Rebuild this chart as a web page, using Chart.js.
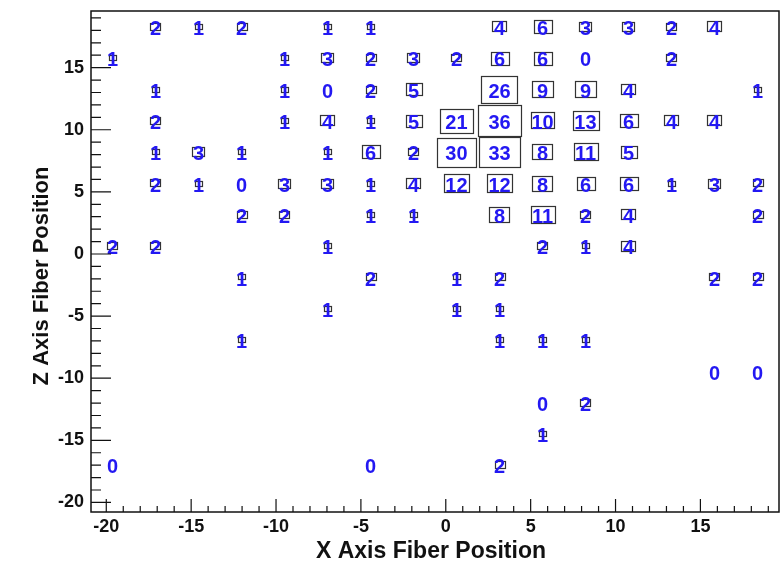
<!DOCTYPE html>
<html>
<head>
<meta charset="utf-8">
<script src="https://cdn.jsdelivr.net/npm/chart.js@4.4.1/dist/chart.umd.min.js"></script>
<style>
  html, body { margin: 0; padding: 0; background: #fff; }
</style>
</head>
<body>
<canvas id="fiberChart" width="783" height="566"></canvas>
<script>
// bin centres of the 16 x 16 histogram
const xCenters = [-19.63, -17.10, -14.57, -12.03, -9.50, -6.97, -4.43, -1.90, 0.63, 3.17, 5.70, 8.23, 10.77, 13.30, 15.83, 18.37];
const zCenters = [18.30, 15.78, 13.26, 10.74, 8.22, 5.70, 3.18, 0.66, -1.86, -4.38, -6.90, -9.42, -11.94, -14.46, -16.98, -19.50];
const xRange = [-20.9, 19.63];
const zRange = [-20.77, 19.56];
const xTicks = [-20, -15, -10, -5, 0, 5, 10, 15];
const zTicks = [-20, -15, -10, -5, 0, 5, 10, 15];

// counts per row (top row first), null = empty bin
const counts = [
  [null, 2, 1, 2, null, 1, 1, null, null, 4, 6, 3, 3, 2, 4, null],
  [1, null, null, null, 1, 3, 2, 3, 2, 6, 6, 0, null, 2, null, null],
  [null, 1, null, null, 1, 0, 2, 5, null, 26, 9, 9, 4, null, null, 1],
  [null, 2, null, null, 1, 4, 1, 5, 21, 36, 10, 13, 6, 4, 4, null],
  [null, 1, 3, 1, null, 1, 6, 2, 30, 33, 8, 11, 5, null, null, null],
  [null, 2, 1, 0, 3, 3, 1, 4, 12, 12, 8, 6, 6, 1, 3, 2],
  [null, null, null, 2, 2, null, 1, 1, null, 8, 11, 2, 4, null, null, 2],
  [2, 2, null, null, null, 1, null, null, null, null, 2, 1, 4, null, null, null],
  [null, null, null, 1, null, null, 2, null, 1, 2, null, null, null, null, 2, 2],
  [null, null, null, null, null, 1, null, null, 1, 1, null, null, null, null, null, null],
  [null, null, null, 1, null, null, null, null, null, 1, 1, 1, null, null, null, null],
  [null, null, null, null, null, null, null, null, null, null, null, null, null, null, 0, 0],
  [null, null, null, null, null, null, null, null, null, null, 0, 2, null, null, null, null],
  [null, null, null, null, null, null, null, null, null, null, 1, null, null, null, null, null],
  [0, null, null, null, null, null, 0, null, null, 2, null, null, null, null, null, null],
  [null, null, null, null, null, null, null, null, null, null, null, null, null, null, null, null]
];

const cells = [];
counts.forEach((row, r) => {
  row.forEach((v, c) => {
    if (v !== null) cells.push({ x: xCenters[c], y: zCenters[r], v: v });
  });
});
const maxCount = Math.max(...cells.map(p => p.v));

const FONT = 'Liberation Sans, Arial, Helvetica, sans-serif';

// boxes + numbers for each bin, placed with the chart's scales
const boxTextPlugin = {
  id: 'boxText',
  afterDatasetsDraw(chart) {
    const ctx = chart.ctx;
    const xs = chart.scales.x, ys = chart.scales.y;
    const binW = Math.abs(xs.getPixelForValue(xCenters[1]) - xs.getPixelForValue(xCenters[0]));
    const binH = Math.abs(ys.getPixelForValue(zCenters[0]) - ys.getPixelForValue(zCenters[1]));
    const meta = chart.getDatasetMeta(0);
    ctx.save();
    ctx.strokeStyle = '#333';
    ctx.lineWidth = 1.2;
    meta.data.forEach((pt, i) => {
      const v = cells[i].v;
      if (v <= 0) return;
      const f = Math.sqrt(v / maxCount);
      const w = binW * f, h = binH * f;
      ctx.strokeRect(Math.round(pt.x - w / 2) + 0.5, Math.round(pt.y - h / 2) + 0.5, Math.round(w), Math.round(h));
    });
    ctx.fillStyle = '#2318f2';
    ctx.font = 'bold 20px ' + FONT;
    ctx.textAlign = 'center';
    ctx.textBaseline = 'middle';
    meta.data.forEach((pt, i) => {
      ctx.fillText(String(cells[i].v), pt.x, pt.y + 3);
    });
    ctx.restore();
  },
  afterDraw(chart) {
    const ctx = chart.ctx;
    const a = chart.chartArea;
    const xs = chart.scales.x, ys = chart.scales.y;
    ctx.save();
    ctx.strokeStyle = '#111';
    ctx.lineWidth = 1.5;
    ctx.strokeRect(a.left, a.top, a.right - a.left, a.bottom - a.top);
    ctx.lineWidth = 1.2;
    ctx.beginPath();
    for (let v = -20; v <= 19; v++) {
      const major = v % 5 === 0;
      const py = ys.getPixelForValue(v);
      ctx.moveTo(a.left, py);
      ctx.lineTo(a.left + (major ? 20 : 10), py);
      const px = xs.getPixelForValue(v);
      ctx.moveTo(px, a.bottom);
      ctx.lineTo(px, a.bottom - (major ? 13 : 6));
    }
    ctx.stroke();

    // axis titles
    ctx.fillStyle = '#111';
    ctx.textAlign = 'center';
    ctx.textBaseline = 'middle';
    ctx.font = 'bold 23px ' + FONT;
    ctx.fillText('X Axis Fiber Position', 431, 552);
    ctx.font = 'bold 22px ' + FONT;
    ctx.translate(42, 276);
    ctx.rotate(-Math.PI / 2);
    ctx.fillText('Z Axis Fiber Position', 0, 0);
    ctx.restore();
  }
};

new Chart(document.getElementById('fiberChart'), {
  type: 'scatter',
  data: {
    datasets: [{
      data: cells,
      pointRadius: 0,
      pointHoverRadius: 0
    }]
  },
  options: {
    responsive: false,
    animation: false,
    devicePixelRatio: 1,
    layout: { padding: { top: 11, right: 4, left: 0, bottom: 0 } },
    plugins: { legend: { display: false }, tooltip: { enabled: false } },
    scales: {
      x: {
        type: 'linear',
        min: xRange[0],
        max: xRange[1],
        grid: { display: false, drawTicks: false },
        border: { display: false },
        afterBuildTicks: (scale) => { scale.ticks = xTicks.map(v => ({ value: v })); },
        afterFit: (scale) => { scale.height = 54; scale.paddingLeft = 0; scale.paddingRight = 0; },
        ticks: {
          color: '#111',
          padding: 4,
          maxRotation: 0,
          font: { family: FONT, size: 18, weight: 'bold' }
        }
      },
      y: {
        type: 'linear',
        min: zRange[0],
        max: zRange[1],
        grid: { display: false, drawTicks: false },
        border: { display: false },
        afterBuildTicks: (scale) => { scale.ticks = zTicks.map(v => ({ value: v })); },
        afterFit: (scale) => { scale.width = 91; scale.paddingTop = 0; scale.paddingBottom = 0; },
        ticks: {
          color: '#111',
          padding: 7,
          font: { family: FONT, size: 18, weight: 'bold' }
        }
      }
    }
  },
  plugins: [boxTextPlugin]
});
</script>
</body>
</html>
